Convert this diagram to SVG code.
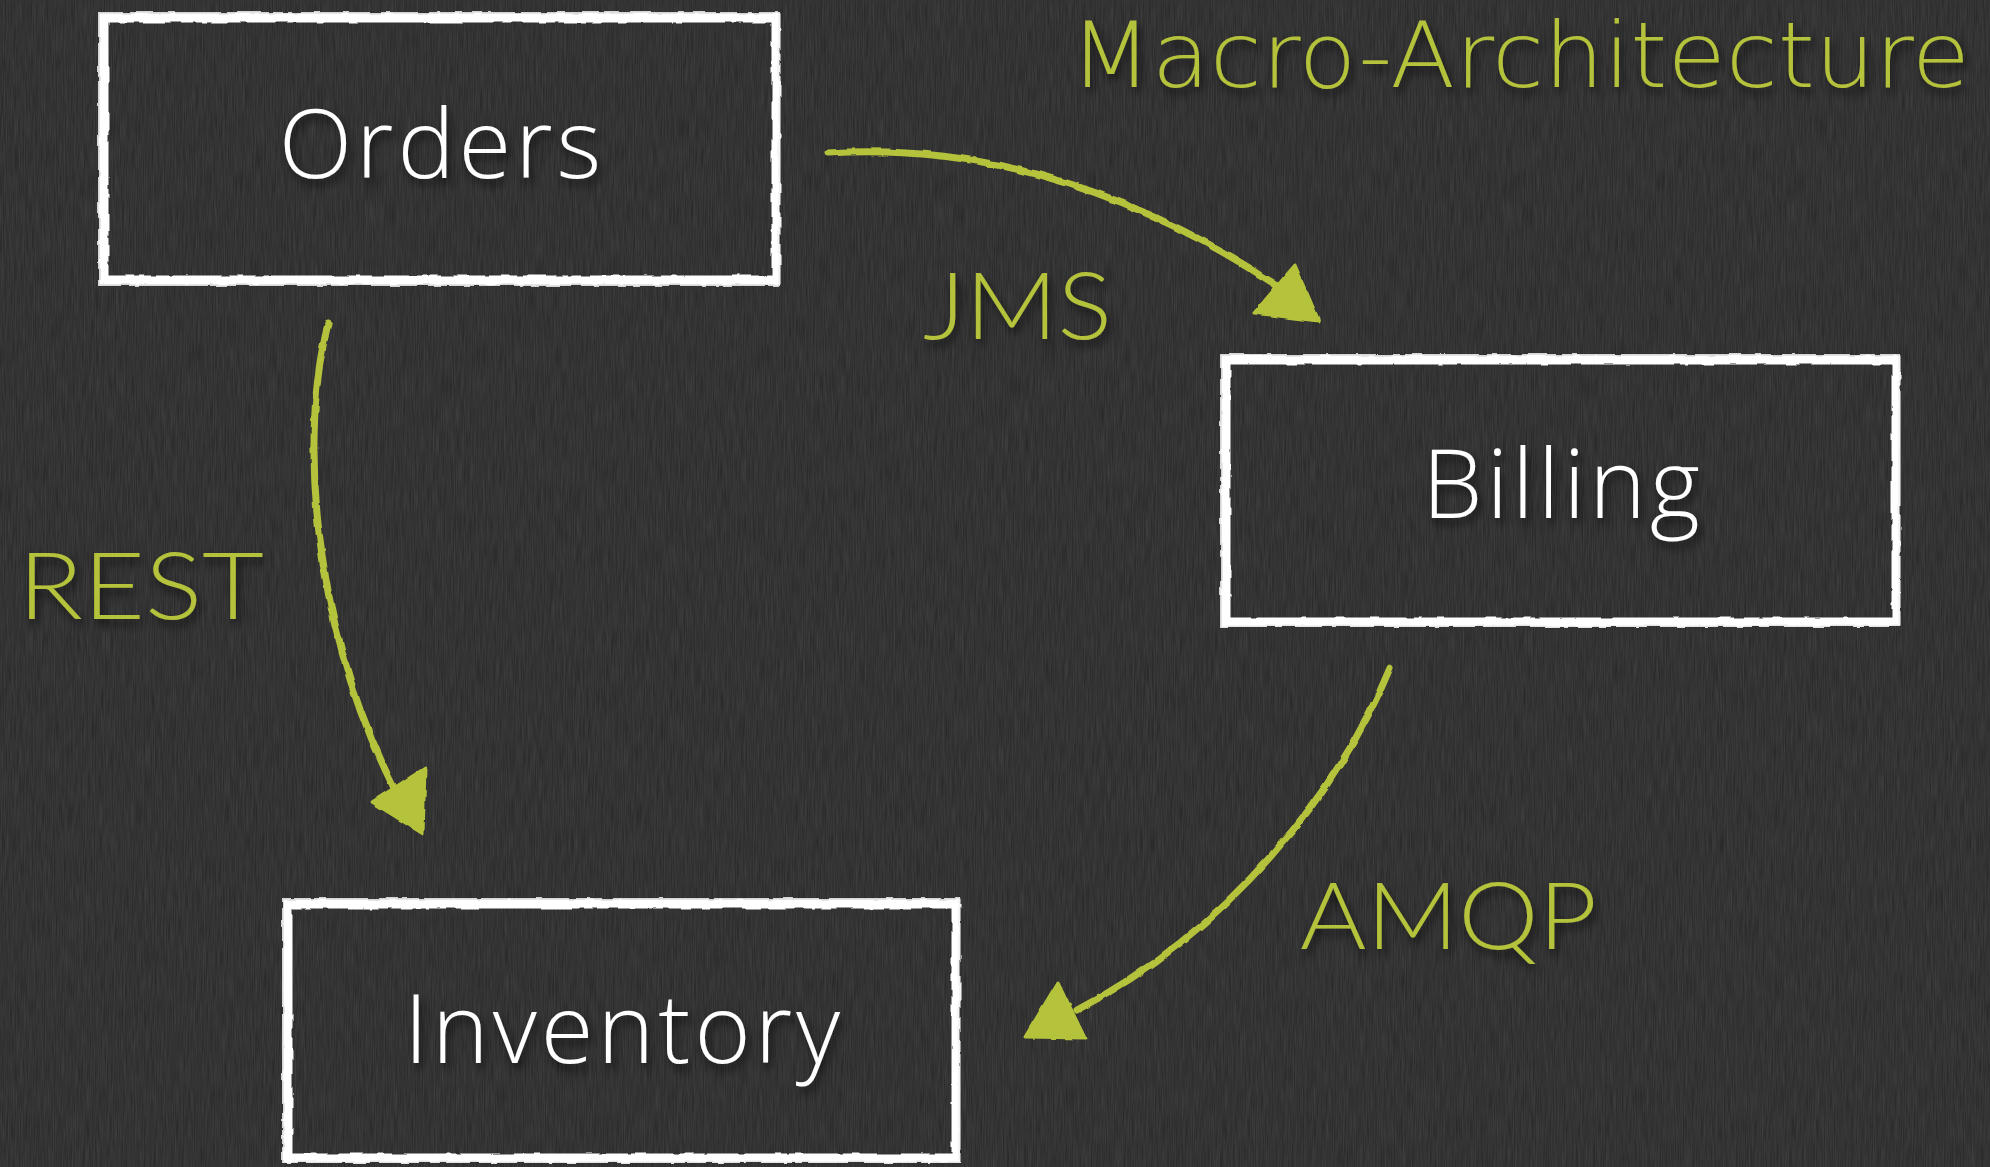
<svg xmlns="http://www.w3.org/2000/svg" width="1990" height="1167" viewBox="0 0 1990 1167">
  <defs>
    <style>
      .node-frame { fill: none; stroke: #ffffff; stroke-width: 9; stroke-linejoin: miter; }
      .node-frame-thin { fill: none; stroke: #f2f2f2; stroke-width: 2; opacity: 0.85; }
      .node-text { font-family: "Open Sans", "Lato", "Liberation Sans", sans-serif; font-weight: 300; font-size: 96px; letter-spacing: 4px; fill: #ffffff; text-anchor: middle; }
      .label { font-family: "Lato", "Open Sans", "Liberation Sans", sans-serif; font-weight: 300; font-size: 92px; fill: #b5c23a; }
      .title { font-family: "DejaVu Sans", "Open Sans", sans-serif; font-weight: 200; font-size: 91px; fill: #b5c23a; }
      .conn { fill: none; stroke: #b5c23a; stroke-width: 7; stroke-linecap: round; }
      .head { fill: #b5c23a; stroke: #b5c23a; stroke-width: 3; stroke-linejoin: round; }
    </style>
    <filter id="grain" x="0" y="0" width="100%" height="100%">
      <feTurbulence type="fractalNoise" baseFrequency="0.9 0.035" numOctaves="2" seed="4"/>
      <feColorMatrix values="0 0 0 0 1  0 0 0 0 1  0 0 0 0 1  0.14 0 0 0 -0.03"/>
    </filter>
    <filter id="rough" x="-3%" y="-3%" width="106%" height="106%">
      <feTurbulence type="fractalNoise" baseFrequency="0.06" numOctaves="2" seed="7" result="n"/>
      <feDisplacementMap in="SourceGraphic" in2="n" scale="4" xChannelSelector="R" yChannelSelector="G"/>
    </filter>
    <filter id="shadow" x="-10%" y="-20%" width="120%" height="150%">
      <feDropShadow dx="3" dy="6" stdDeviation="5" flood-color="#000000" flood-opacity="0.65"/>
    </filter>
  </defs>

  <rect x="0" y="0" width="1990" height="1167" fill="#2b2b2b"/>
  <rect x="0" y="0" width="1990" height="1167" filter="url(#grain)"/>

  <text class="title" x="1070" y="87" textLength="900" lengthAdjust="spacingAndGlyphs" filter="url(#shadow)">Macro-Architecture</text>

  <g id="orders">
    <g filter="url(#rough)">
      <rect class="node-frame" x="104" y="18" width="672" height="262"/>
      <rect class="node-frame-thin" x="99" y="13" width="680" height="272"/>
    </g>
    <text class="node-text" x="442" y="178" filter="url(#shadow)">Orders</text>
  </g>

  <g id="billing">
    <g filter="url(#rough)">
      <rect class="node-frame" x="1226" y="360" width="670" height="262"/>
      <rect class="node-frame-thin" x="1221" y="355" width="678" height="271"/>
    </g>
    <text class="node-text" x="1563" y="518" filter="url(#shadow)">Billing</text>
  </g>

  <g id="inventory">
    <g filter="url(#rough)">
      <rect class="node-frame" x="288" y="904" width="668" height="254"/>
      <rect class="node-frame-thin" x="283" y="899" width="676" height="263"/>
    </g>
    <text class="node-text" x="624" y="1063" filter="url(#shadow)">Inventory</text>
  </g>

  <g id="connectors">
    <g filter="url(#rough)">
      <path class="conn" d="M828,153 C960,145 1110,175 1276,285"/>
      <polygon class="head" points="1295,265 1254,313 1319,321"/>
      <path class="conn" d="M328,324 C300,430 310,620 394,788"/>
      <polygon class="head" points="425,768 372,802 423,834"/>
      <path class="conn" d="M1390,668 C1340,790 1230,930 1077,1010"/>
      <polygon class="head" points="1058,982 1085,1038 1025,1037"/>
    </g>
  </g>

  <g id="labels" filter="url(#shadow)">
    <text class="label" x="923" y="339" textLength="189" lengthAdjust="spacingAndGlyphs">JMS</text>
    <text class="label" x="18" y="619" textLength="246" lengthAdjust="spacingAndGlyphs">REST</text>
    <text class="label" x="1300" y="949" textLength="297" lengthAdjust="spacingAndGlyphs">AMQP</text>
  </g>
</svg>
